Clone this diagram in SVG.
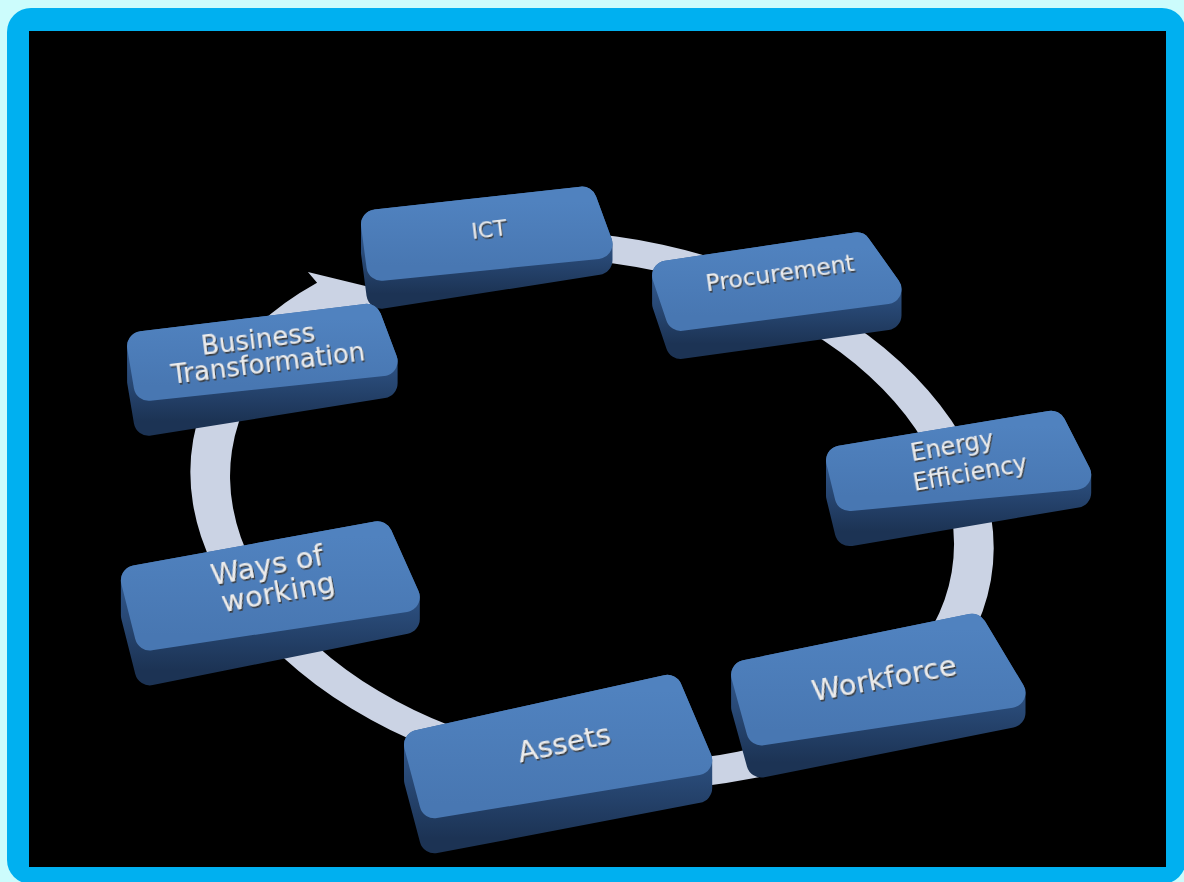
<svg xmlns="http://www.w3.org/2000/svg" width="1184" height="882" viewBox="0 0 1184 882">
  <defs>
    <linearGradient id="gSide" x1="0" y1="0" x2="0" y2="1">
      <stop offset="0" stop-color="#3d6ba5"/>
      <stop offset="0.45" stop-color="#2d5182"/>
      <stop offset="1" stop-color="#1c3354"/>
    </linearGradient>
    <linearGradient id="gFace" x1="0" y1="0" x2="0" y2="1">
      <stop offset="0" stop-color="#5082bf"/>
      <stop offset="1" stop-color="#4877b2"/>
    </linearGradient>
    <filter id="ts" x="-10%" y="-30%" width="120%" height="170%">
      <feDropShadow dx="1" dy="1.8" stdDeviation="0.4" flood-color="#3a3a3a" flood-opacity="0.95"/>
    </filter>
    <style>
      .ring { fill: #cbd3e4; }
      .side { fill: url(#gSide); stroke: url(#gSide); stroke-width: 30; stroke-linejoin: round; }
      .face { fill: url(#gFace); stroke: url(#gFace); stroke-width: 30; stroke-linejoin: round; }
      .lbl { font-family: "DejaVu Sans", "Liberation Sans", sans-serif; fill: #ececec; text-anchor: middle; filter: url(#ts); }
    </style>
  </defs>

  <rect x="0" y="0" width="1184" height="882" fill="#ccfcfc"/>
  <rect x="7" y="8" width="1179" height="876" rx="24" fill="#00b0f0"/>
  <rect x="29" y="31" width="1137" height="836" fill="#000000"/>

  <g id="connectors">
    <path class="ring" d="M 569.6 232.06 A 405 274 10 1 1 317.08 282.69 L 307.9 272.1 L 390 292 L 350.1 319.8 L 339.65 307.69 A 365 247 10 1 0 571.83 259.45 Z"/>
  </g>

  <g id="node-ict">
    <polygon class="side" points="376,224.5 582,201.6 597.5,244 597.5,260 381.4,293.8 376,252.5"/>
    <polygon class="face" points="376,224.5 582,201.6 597.5,244 381.4,265.8"/>
    <text class="lbl" font-size="22" transform="translate(489 229) rotate(-6.5)" y="8">ICT</text>
  </g>

  <g id="node-procurement">
    <polygon class="side" points="667.1,275.5 856.7,247.4 886.5,289.2 886.5,315.2 680.7,343.9 667.1,303.5"/>
    <polygon class="face" points="667.1,275.5 856.7,247.4 886.5,289.2 680.7,315.9"/>
    <text class="lbl" font-size="23.5" transform="translate(780 273) rotate(-8)" y="8">Procurement</text>
  </g>

  <g id="node-business-transformation">
    <polygon class="side" points="142.1,346.2 366.6,318.8 382.6,361.2 382.6,383.2 148.7,420.8 142.1,381.2"/>
    <polygon class="face" points="142.1,346.2 366.6,318.8 382.6,361.2 148.7,385.8"/>
    <text class="lbl" font-size="26" transform="translate(258 339) rotate(-7)" y="9">Business</text>
    <text class="lbl" font-size="26" transform="translate(268 363) rotate(-7)" y="9">Transformation</text>
  </g>

  <g id="node-energy-efficiency">
    <polygon class="side" points="841,460.5 1051.1,425.7 1076.2,474.7 1076.2,492.7 849.7,531.1 841,495.5"/>
    <polygon class="face" points="841,460.5 1051.1,425.7 1076.2,474.7 849.7,496.1"/>
    <text class="lbl" font-size="24" transform="translate(952 446) rotate(-10)" y="8">Energy</text>
    <text class="lbl" font-size="24" transform="translate(970 473) rotate(-10)" y="8">Efficiency</text>
  </g>

  <g id="node-ways-of-working">
    <polygon class="side" points="135.9,580.3 377.5,536.2 404.8,597.1 404.8,619.1 149.8,670.4 135.9,615.3"/>
    <polygon class="face" points="135.9,580.3 377.5,536.2 404.8,597.1 149.8,635.4"/>
    <text class="lbl" font-size="29" transform="translate(267 565) rotate(-10.5)" y="10">Ways of</text>
    <text class="lbl" font-size="29" transform="translate(278 592) rotate(-10.5)" y="10">working</text>
  </g>

  <g id="node-workforce">
    <polygon class="side" points="746.1,674.9 972,628.8 1010.5,692.8 1010.5,712.8 761.4,762.5 746.1,706.9"/>
    <polygon class="face" points="746.1,674.9 972,628.8 1010.5,692.8 761.4,730.5"/>
    <text class="lbl" font-size="29" transform="translate(884 678) rotate(-10.5)" y="10">Workforce</text>
  </g>

  <g id="node-assets">
    <polygon class="side" points="419,744.8 667.3,689.8 697.2,760.1 697.2,788.1 434.5,838.3 419,779.8"/>
    <polygon class="face" points="419,744.8 667.3,689.8 697.2,760.1 434.5,803.3"/>
    <text class="lbl" font-size="29" transform="translate(564 743) rotate(-12)" y="10">Assets</text>
  </g>
</svg>
